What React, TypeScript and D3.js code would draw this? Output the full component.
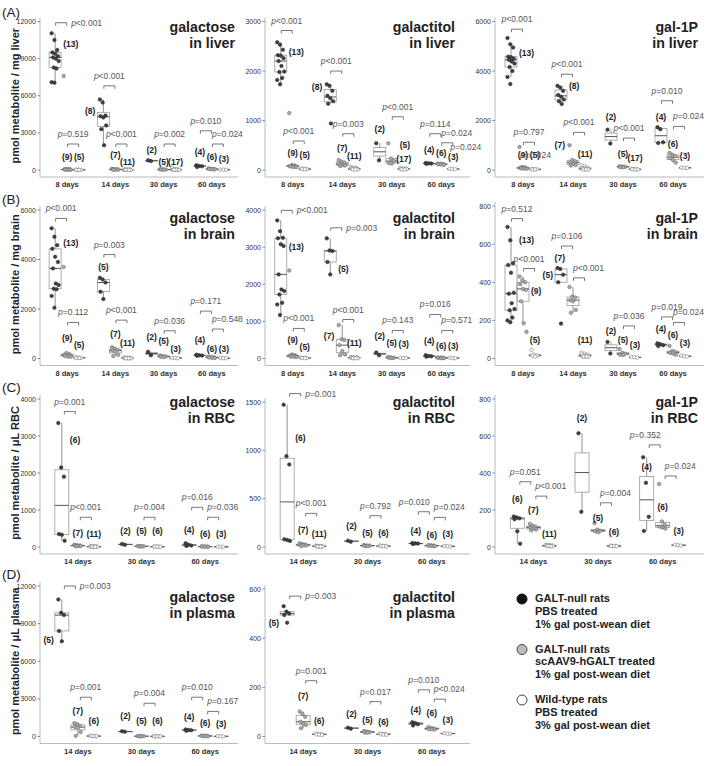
import React from "react";
import * as d3 from "d3";

const days4 = ["8 days", "14 days", "30 days", "60 days"];
const days3 = ["14 days", "30 days", "60 days"];

// values per [timepoint][group: GALT-null PBS, GALT-null AAV, wild-type][animals]
// n labels: [n, label height (data units), side]; p labels: [timepoint, pair, text, bracket height, anchor]
const galLiver = [
	[[11050, 10500, 9700, 9500, 9400, 9200, 9100, 9000, 8800, 8280, 8200, 7100, 7050], [7600, 80, 60, 50, 40, 40, 30, 30, 20], [30, 20, 20, 10, 10]],
	[[5700, 5450, 4400, 4350, 4250, 3600, 3300, 2000], [90, 70, 60, 50, 40, 30, 30], [40, 30, 30, 20, 20, 20, 10, 10, 10, 10, 10]],
	[[780, 720], [60, 50, 40, 40, 30], [200, 50, 40, 30, 30, 20, 20, 20, 10, 10]],
	[[380, 330, 300, 250], [120, 100, 80, 80, 60, 50], [40, 30, 20]],
];
const galLiverN = [[13, 10170, "r"], [9, 1076], [5, 1020], [8, 4790, "l"], [7, 1237], [11, 620], [2, 1615], [5, 620], [17, 620], [4, 1425], [6, 1020], [3, 900]];
const galLiverP = [[0, 0, "<0.001", 11900, "r"], [0, 1, "=0.519", 2100, "a"], [1, 0, "<0.001", 6800, "a"], [1, 1, "<0.001", 2100, "a"], [2, 1, "=0.002", 2100, "a"], [3, 0, "=0.010", 3170, "a"], [3, 1, "=0.024", 2100, "s"]];

const galtolLiver = [
	[[2580, 2530, 2430, 2320, 2310, 2260, 2200, 2100, 1990, 1980, 1860, 1820, 1730], [1150, 100, 90, 80, 80, 70, 70, 60, 60], [30, 25, 20, 20, 15]],
	[[1730, 1700, 1600, 1500, 1450, 1390, 1340, 940], [200, 170, 150, 120, 100, 90, 80], [60, 50, 40, 30, 30, 20, 20, 20, 10, 10, 10]],
	[[540, 195], [540, 230, 180, 140, 130], [40, 30, 30, 20, 20, 20, 15, 10]],
	[[140, 135, 130, 125], [130, 125, 120, 115, 110, 105], [25, 20, 15]],
];
const galtolLiverN = [[13, 2380, "r"], [9, 336], [5, 296], [8, 1680, "l"], [7, 450], [11, 282], [2, 820], [5, 498, "r"], [17, 215], [4, 397], [6, 336], [3, 269]];
const galtolLiverP = [[0, 0, "<0.001", 2818, "a"], [0, 1, "<0.001", 585, "a"], [1, 0, "<0.001", 2000, "a"], [1, 1, "=0.003", 733, "a"], [2, 1, "<0.001", 1076, "a"], [3, 0, "=0.114", 733, "a"], [3, 1, "=0.024", 550, "s"]];
const galtolLiverX = [[3, 2, "=0.024", 465]];

const gal1pLiver = [
	[[5330, 5080, 4950, 4580, 4560, 4500, 4450, 4380, 4300, 4160, 4000, 3760, 3470], [930, 120, 100, 90, 80, 80, 70, 60, 50], [40, 30, 30, 20, 20]],
	[[3400, 3330, 3200, 3030, 2960, 2850, 2780, 2670], [1000, 400, 350, 300, 250, 200, 180], [200, 150, 100, 80, 60, 50, 40, 30, 30, 20, 20]],
	[[1630, 1070], [150, 140, 130, 120, 110], [50, 40, 30, 30, 20, 20]],
	[[1730, 1650, 1120, 1090], [690, 620, 560, 480, 400, 300], [100, 90, 80]],
];
const gal1pLiverN = [[13, 4720, "r"], [9, 610], [5, 610], [8, 3390, "r"], [7, 1000, "l"], [11, 627], [2, 2160], [5, 627], [17, 493], [4, 2160], [6, 1070], [3, 560]];
const gal1pLiverP = [[0, 0, "<0.001", 5690, "a"], [0, 1, "=0.797", 1120, "a"], [1, 0, "<0.001", 3870, "a"], [1, 1, "<0.001", 1520, "a"], [2, 1, "<0.001", 1290, "a"], [3, 0, "=0.010", 2800, "a"], [3, 1, "=0.024", 1760, "s"]];
const gal1pLiverX = [[0, 1, "=0.024", 604]];

const galBrain = [
	[[5260, 4920, 4580, 4430, 4110, 3900, 3640, 3030, 2970, 2820, 2800, 2530, 2050], [3700, 220, 180, 150, 130, 110, 100, 80, 70], [50, 40, 30, 30, 20]],
	[[3260, 3195, 3070, 2700, 2400], [450, 400, 350, 320, 300, 150, 100], [40, 30, 30, 20, 20, 20, 15, 10, 10, 10, 10]],
	[[270, 130], [120, 100, 80, 70, 60], [30, 20, 10]],
	[[150, 130, 120, 110], [80, 60, 50, 40, 30, 20], [20, 15, 10]],
];
const galBrainN = [[13, 4650, "r"], [9, 810], [5, 540], [5, 3700], [7, 1010], [11, 607], [2, 876], [5, 700], [3, 404], [4, 740], [6, 404], [3, 404]];
const galBrainP = [[0, 0, "<0.001", 5660, "a"], [0, 1, "=0.112", 1456, "a"], [1, 0, "=0.003", 4200, "a"], [1, 1, "<0.001", 1550, "a"], [2, 1, "=0.036", 1120, "a"], [3, 0, "=0.171", 1915, "a"], [3, 1, "=0.548", 1190, "s"]];

const galtolBrain = [
	[[3720, 3430, 3250, 3240, 3080, 3030, 2265, 1860, 1815, 1725, 1500, 1455, 1170], [2370, 110, 90, 80, 70, 60, 50, 50, 40], [20, 15, 15, 10, 10]],
	[[3236, 2910, 2895, 2600, 2265], [900, 520, 500, 360, 200, 110, 90], [40, 30, 30, 20, 20, 20, 10, 10, 10, 10, 10]],
	[[160, 90], [40, 30, 20, 20, 10], [20, 15, 10]],
	[[90, 70, 60, 50], [30, 25, 20, 15, 10, 10], [20, 15, 10]],
];
const galtolBrainN = [[13, 3000, "r"], [9, 485], [5, 315], [5, 2400, "r"], [7, 600, "l"], [11, 420], [2, 600], [5, 405], [3, 378], [4, 467], [6, 350], [3, 333]];
const galtolBrainP = [[0, 0, "<0.001", 3990, "r"], [0, 1, "<0.001", 810, "a"], [1, 0, "=0.003", 3520, "r"], [1, 1, "<0.001", 1050, "a"], [2, 1, "=0.143", 755, "a"], [3, 0, "=0.016", 1186, "a"], [3, 1, "=0.571", 755, "s"]];

const gal1pBrain = [
	[[690, 620, 500, 490, 450, 345, 340, 290, 260, 253, 215, 200, 190], [430, 410, 400, 390, 365, 360, 300, 185, 140], [45, 20, 15, 15, 10]],
	[[475, 470, 440, 400, 183], [375, 325, 320, 306, 300, 255, 240], [30, 25, 20, 20, 15, 15, 10, 10, 10, 10, 10]],
	[[87, 26], [50, 30, 25, 20, 18], [8, 6, 5]],
	[[80, 75, 70, 65], [66, 40, 35, 30, 26, 20], [15, 12, 10]],
];
const gal1pBrainN = [[13, 620, "r"], [9, 353, "r"], [5, 96], [5, 440, "l"], [7, 527, "l"], [11, 96], [2, 143], [5, 96], [3, 70], [4, 154], [6, 122], [3, 79]];
const gal1pBrainP = [[0, 0, "=0.512", 734, "a"], [0, 1, "<0.001", 472, "a"], [1, 0, "=0.106", 590, "a"], [1, 1, "<0.001", 423, "s"], [2, 1, "=0.036", 171, "a"], [3, 0, "=0.019", 218, "a"], [3, 1, "=0.024", 189, "s"]];

const galRbc = [
	[[3350, 2150, 1900, 350, 330, 170], [60, 50, 40, 40, 30, 30, 20], [20, 15, 15, 10, 10, 10, 10, 5, 5, 5, 5]],
	[[80, 60], [30, 25, 20, 15, 10], [15, 12, 10, 10, 8, 5]],
	[[100, 60, 40, 30], [20, 15, 15, 10, 10, 5], [10, 8, 5]],
];
const galRbcN = [[6, 2900, "r"], [7, 375], [11, 340], [2, 430], [5, 430], [6, 430], [4, 464], [6, 340], [3, 340]];
const galRbcP = [[0, 0, "=0.001", 3660, "a"], [0, 1, "<0.001", 804, "a"], [1, 1, "=0.004", 804, "a"], [2, 0, "=0.016", 1072, "a"], [2, 1, "=0.036", 804, "s"]];

const galtolRbc = [
	[[1472, 940, 853, 80, 73, 63], [40, 30, 25, 20, 20, 15, 10], [15, 10, 10, 10, 8, 8, 6, 6, 5, 5, 5]],
	[[65, 55], [20, 15, 15, 10, 10], [15, 12, 10, 10, 8, 5]],
	[[40, 38, 35, 32], [20, 18, 15, 12, 10, 8], [10, 8, 6]],
];
const galtolRbcN = [[6, 1124, "r"], [7, 174], [11, 132], [2, 219], [5, 150], [6, 150], [4, 167], [6, 125], [3, 132]];
const galtolRbcP = [[0, 0, "=0.001", 1587, "r"], [0, 1, "<0.001", 348, "a"], [1, 1, "=0.792", 324, "a"], [2, 0, "=0.010", 365, "e"], [2, 1, "=0.024", 306, "s"]];

const gal1pRbc = [
	[[165, 160, 155, 150, 85, 18], [125, 115, 110, 105, 100, 95, 90], [12, 10, 10, 8, 8, 6, 6, 5, 5, 5, 4]],
	[[615, 190], [130, 94, 88, 85, 80], [8, 6, 6, 5, 5, 4]],
	[[485, 347, 163, 87], [340, 138, 120, 110, 105, 100], [12, 10, 8]],
];
const gal1pRbcN = [[6, 262], [7, 199], [11, 72], [2, 697], [5, 159], [6, 81], [4, 431], [6, 214], [3, 87]];
const gal1pRbcP = [[0, 0, "=0.051", 353, "a"], [0, 1, "<0.001", 275, "s"], [1, 1, "=0.004", 239, "s"], [2, 0, "=0.352", 552, "e"], [2, 1, "=0.024", 384, "s"]];

const galPlasma = [
	[[10930, 9860, 9680, 8420, 7590], [1070, 990, 850, 750, 700, 350, 50], [60, 50, 40, 40, 30, 30]],
	[[420, 380], [40, 30, 30, 20, 20], [30, 25, 20, 20, 15, 10]],
	[[560, 520, 500, 450], [80, 60, 50, 40, 30, 20], [30, 20, 10]],
];
const galPlasmaN = [[5, 7670, "l"], [7, 2060], [6, 1256], [2, 1657], [5, 1200], [6, 1200], [4, 1577], [6, 1070], [3, 990]];
const galPlasmaP = [[0, 0, "=0.003", 12000, "r"], [0, 1, "=0.001", 3130, "a"], [1, 1, "=0.004", 2650, "a"], [2, 0, "=0.010", 3130, "a"], [2, 1, "=0.167", 2000, "s"]];

const galtolPlasma = [
	[[530, 508, 500, 494, 463], [102, 92, 80, 60, 52, 47, 34], [12, 10, 10, 8, 8, 6]],
	[[36, 32], [22, 20, 18, 16, 15], [12, 10, 10, 9, 8, 7]],
	[[58, 55, 50, 45], [38, 35, 33, 30, 30, 28], [14, 12, 11]],
];
const galtolPlasmaN = [[5, 460, "l"], [7, 165], [6, 65], [2, 92], [5, 68], [6, 61], [4, 108], [6, 95], [3, 68]];
const galtolPlasmaP = [[0, 0, "=0.003", 571, "r"], [0, 1, "=0.001", 227, "a"], [1, 1, "=0.017", 142, "a"], [2, 0, "=0.010", 190, "a"], [2, 1, "<0.024", 152, "s"]];

const legendItems = [
	["GALT-null rats", "PBS treated", "1% gal post-wean diet"],
	["GALT-null rats", "scAAV9-hGALT treated", "1% gal post-wean diet"],
	["Wild-type rats", "PBS treated", "3% gal post-wean diet"],
];

const rows = [
	{ y0: 170, top: 21.5, titleY: 32, tag: "(A)", tagY: 17, unit: "pmol metabolite / mg liver" },
	{ y0: 358.5, top: 210, titleY: 223, tag: "(B)", tagY: 204, unit: "pmol metabolite / mg brain" },
	{ y0: 547, top: 399, titleY: 407, tag: "(C)", tagY: 392, unit: "pmol metabolite / μL RBC" },
	{ y0: 736.5, top: 586, titleY: 602, tag: "(D)", tagY: 579, unit: "pmol metabolite / μL plasma" },
];
const cols = [
	{ ax: 40, right: 238, titleR: 235, in4: 2, in3: 1 },
	{ ax: 265, right: 470, titleR: 455, in4: 4, in3: 6 },
	{ ax: 495, right: 704, titleR: 698, in4: 6, in3: 9 },
];

const panels: any[] = [
	{ pts: galLiver, n: galLiverN, p: galLiverP, title: ["galactose", "in liver"], max: 12000, step: 3000, row: 0, col: 0 },
	{ pts: galtolLiver, n: galtolLiverN, p: galtolLiverP, extra: galtolLiverX, title: ["galactitol", "in liver"], max: 3000, step: 1000, row: 0, col: 1 },
	{ pts: gal1pLiver, n: gal1pLiverN, p: gal1pLiverP, extra: gal1pLiverX, title: ["gal-1P", "in liver"], max: 6000, step: 2000, row: 0, col: 2 },
	{ pts: galBrain, n: galBrainN, p: galBrainP, title: ["galactose", "in brain"], max: 6000, step: 2000, row: 1, col: 0 },
	{ pts: galtolBrain, n: galtolBrainN, p: galtolBrainP, title: ["galactitol", "in brain"], max: 4000, step: 1000, row: 1, col: 1 },
	{ pts: gal1pBrain, n: gal1pBrainN, p: gal1pBrainP, title: ["gal-1P", "in brain"], max: 800, step: 200, row: 1, col: 2, topPx: 206 },
	{ pts: galRbc, n: galRbcN, p: galRbcP, title: ["galactose", "in RBC"], max: 4000, step: 1000, row: 2, col: 0 },
	{ pts: galtolRbc, n: galtolRbcN, p: galtolRbcP, title: ["galactitol", "in RBC"], max: 1500, step: 500, row: 2, col: 1, topPx: 402 },
	{ pts: gal1pRbc, n: gal1pRbcN, p: gal1pRbcP, title: ["gal-1P", "in RBC"], max: 800, step: 200, row: 2, col: 2 },
	{ pts: galPlasma, n: galPlasmaN, p: galPlasmaP, title: ["galactose", "in plasma"], max: 12000, step: 3000, row: 3, col: 0 },
	{ pts: galtolPlasma, n: galtolPlasmaN, p: galtolPlasmaP, title: ["galactitol", "in plasma"], max: 600, step: 200, row: 3, col: 1, topPx: 589 },
];

const ptFill = ["#404040", "#ababab", "#ffffff"];
const ptStroke = ["#2a2a2a", "#6a6a6a", "#808080"];

function boxStats(v: number[]) {
	const s = [...v].sort(d3.ascending);
	const q1 = d3.quantileSorted(s, 0.25) as number;
	const med = d3.quantileSorted(s, 0.5) as number;
	const q3 = d3.quantileSorted(s, 0.75) as number;
	const iqr = q3 - q1;
	const lo = d3.min(s.filter((d) => d >= q1 - 1.5 * iqr)) as number;
	const hi = d3.max(s.filter((d) => d <= q3 + 1.5 * iqr)) as number;
	return { q1, med, q3, lo, hi };
}

function PText({ x, y, anchor, text }: any) {
	return (
		<text x={x} y={y} textAnchor={anchor} fontSize={8.5} fill="#555">
			<tspan fontStyle="italic">p</tspan>
			{text}
		</text>
	);
}

function Panel({ pts, n, p, extra, title, max, step, row, col, topPx }: any) {
	const R = rows[row];
	const C = cols[col];
	const four = pts.length === 4;
	const days = four ? days4 : days3;
	const y = d3.scaleLinear().domain([0, max]).range([R.y0, topPx ?? R.top]);
	const x = d3
		.scaleBand()
		.domain(days)
		.range(four ? [C.ax + 3, C.right - C.in4] : [C.ax + 6, C.right - C.in3]);
	const dx = four ? 12 : 16;
	const bw = four ? 12 : 14;
	const gx = (t: number, g: number) => (x(days[t]) as number) + x.bandwidth() / 2 + (g - 1) * dx;
	const ticks = d3.range(0, max + step / 2, step);
	const axisY = R.y0 + 7;

	return (
		<g>
			<line x1={C.ax} x2={C.ax} y1={y(max) - 4} y2={axisY} stroke="#bbb" strokeWidth={1} />
			<line x1={C.ax} x2={C.right} y1={axisY} y2={axisY} stroke="#bbb" strokeWidth={1} />
			{ticks.map((t) => (
				<g key={t}>
					<line x1={C.ax - 2.5} x2={C.ax} y1={y(t)} y2={y(t)} stroke="#888" />
					<text x={C.ax - 4} y={y(t) + 2.5} textAnchor="end" fontSize={7} fill="#333">
						{t}
					</text>
				</g>
			))}
			{days.map((d) => (
				<text
					key={d}
					x={(x(d) as number) + x.bandwidth() / 2}
					y={R.y0 + 17}
					textAnchor="middle"
					fontSize={7.5}
					fontWeight="bold"
					fill="#333"
				>
					{d}
				</text>
			))}
			{title.map((s: string, i: number) => (
				<text key={i} x={C.titleR} y={R.titleY + i * 16} textAnchor="end" fontSize={14.2} fontWeight="bold" fill="#222">
					{s}
				</text>
			))}
			{pts.map((tp: number[][], t: number) =>
				tp.map((vals, g) => {
					const b = boxStats(vals);
					const cx = gx(t, g);
					return (
						<g key={`${t}-${g}`}>
							<line x1={cx} x2={cx} y1={y(b.hi)} y2={y(b.q3)} stroke="#777" strokeWidth={0.8} />
							<line x1={cx} x2={cx} y1={y(b.q1)} y2={y(b.lo)} stroke="#777" strokeWidth={0.8} />
							<rect
								x={cx - bw / 2}
								y={y(b.q3)}
								width={bw}
								height={Math.max(0.5, y(b.q1) - y(b.q3))}
								fill="none"
								stroke="#9a9a9a"
								strokeWidth={0.8}
							/>
							<line x1={cx - bw / 2} x2={cx + bw / 2} y1={y(b.med)} y2={y(b.med)} stroke="#555" strokeWidth={1} />
							{vals.map((v, i) => (
								<circle
									key={i}
									cx={cx + (((i * 37) % 11) - 5) * 0.7}
									cy={y(v)}
									r={1.75}
									fill={ptFill[g]}
									stroke={ptStroke[g]}
									strokeWidth={0.6}
								/>
							))}
						</g>
					);
				})
			)}
			{n.map((lab: any[], i: number) => {
				const t = Math.floor(i / 3);
				const g = i % 3;
				const side = lab[2] ?? "c";
				const cx = gx(t, g);
				return (
					<text
						key={i}
						x={side === "r" ? cx + 8 : side === "l" ? cx - 8 : cx}
						y={y(lab[1]) + 3}
						textAnchor={side === "r" ? "start" : side === "l" ? "end" : "middle"}
						fontSize={8.5}
						fontWeight="bold"
						fill="#222"
					>
						({lab[0]})
					</text>
				);
			})}
			{p.map((b: any[], i: number) => {
				const [t, pair, text, val, anchor] = b;
				const bx = (gx(t, pair) + gx(t, pair + 1)) / 2;
				const by = y(val);
				let tx = bx;
				let ty = by - 7;
				let ta = "middle";
				if (anchor === "s") {
					tx = bx - 6;
					ta = "start";
				} else if (anchor === "e") {
					tx = bx + 6;
					ta = "end";
				} else if (anchor === "r") {
					tx = bx + 10;
					ty = by + 3;
					ta = "start";
				}
				return (
					<g key={i}>
						<path d={`M${bx - 5.5},${by + 3}V${by}H${bx + 5.5}V${by + 3}`} fill="none" stroke="#555" strokeWidth={0.8} />
						<PText x={tx} y={ty} anchor={ta} text={text} />
					</g>
				);
			})}
			{(extra ?? []).map((e: any[], i: number) => (
				<PText key={`x${i}`} x={gx(e[0], e[1]) - 3} y={y(e[3]) + 3} anchor="start" text={e[2]} />
			))}
		</g>
	);
}

function Legend() {
	const fills = ["#111", "#bbb", "#fff"];
	return (
		<g>
			{legendItems.map((lines, i) => (
				<g key={i}>
					<circle cx={522} cy={599 + i * 50.5} r={5} fill={fills[i]} stroke={i === 0 ? "#111" : "#444"} strokeWidth={1} />
					{lines.map((s, j) => (
						<text key={j} x={535} y={602 + i * 50.5 + j * 12.8} fontSize={11} fontWeight="bold" fill="#222">
							{s}
						</text>
					))}
				</g>
			))}
		</g>
	);
}

export default function App() {
	return (
		<svg
			width={709}
			height={766}
			style={{ position: "absolute", left: 0, top: 0 }}
			fontFamily="'Liberation Sans', Arial, sans-serif"
		>
			<rect width={709} height={766} fill="#fff" />
			{rows.map((r) => (
				<g key={r.tag}>
					<text x={2} y={r.tagY} fontSize={13.5} fill="#222">
						{r.tag}
					</text>
					<text
						transform={`translate(19,${(r.y0 + r.top) / 2}) rotate(-90)`}
						textAnchor="middle"
						fontSize={11}
						fontWeight="bold"
						fill="#222"
					>
						{r.unit}
					</text>
				</g>
			))}
			{panels.map((p, i) => (
				<Panel key={i} {...p} />
			))}
			<Legend />
		</svg>
	);
}
